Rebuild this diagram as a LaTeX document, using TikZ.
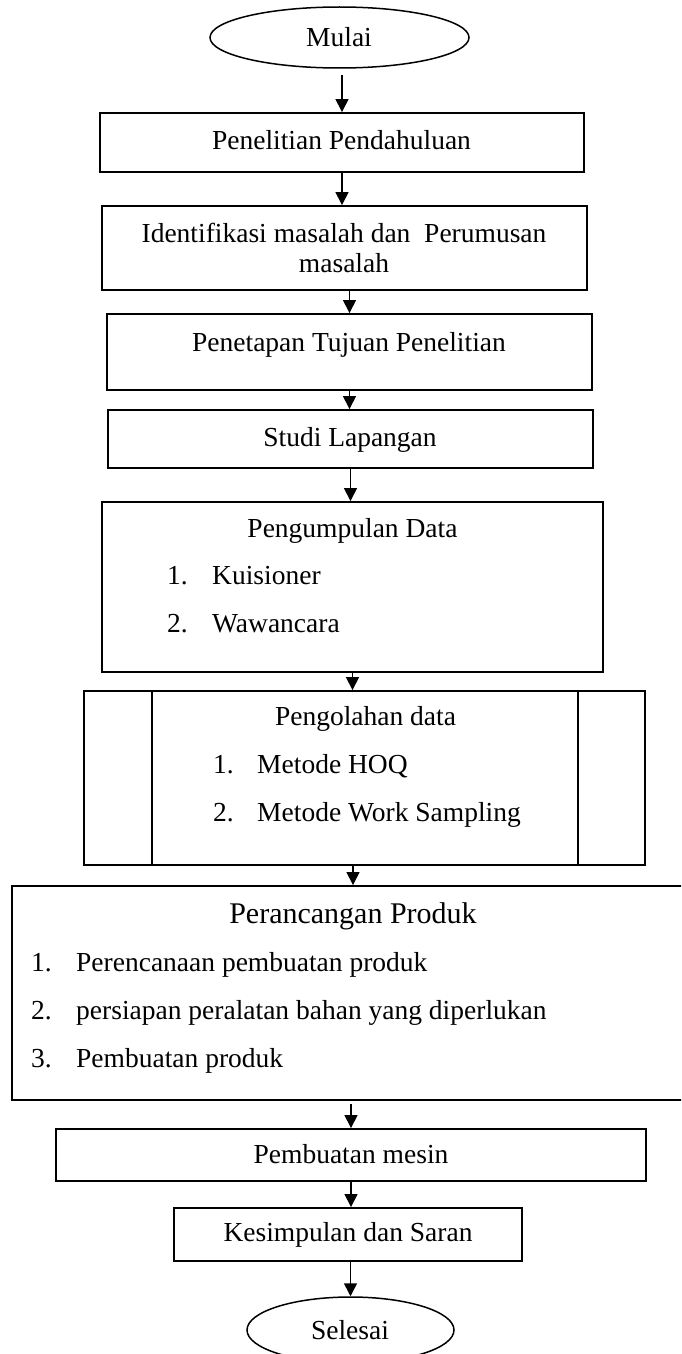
\documentclass[tikz,border=0pt]{standalone}
\usepackage{fontspec}
\setmainfont{Liberation Serif}
\usetikzlibrary{arrows.meta,shapes.geometric}
\begin{document}
\begin{tikzpicture}[x=1pt,y=-1pt,
  box/.style={draw,line width=1.9pt,rectangle,inner sep=0pt},
  oval/.style={draw,line width=1.5pt,ellipse,inner sep=0pt},
  txt/.style={inner sep=0pt,font=\fontsize{27.5}{30}\selectfont,anchor=base},
  ltxt/.style={txt,anchor=base west},
  bigtxt/.style={txt,font=\fontsize{30}{34}\selectfont},
  arr/.style={line width=1.5pt,-{Triangle[length=13pt,width=13pt]}}]
\useasboundingbox (0,0) rectangle (681,1354);
\clip (0,0) rectangle (681,1354);
\fill[white] (0,0) rectangle (681,1354);

% shapes
\node[oval,minimum width=259pt,minimum height=61pt] (e1) at (339.5,37.5) {};
\node[box,minimum width=484pt,minimum height=59pt] (b1) at (342,142.5) {};
\node[box,minimum width=485pt,minimum height=84pt] (b2) at (344.5,248) {};
\node[box,minimum width=485pt,minimum height=76pt] (b3) at (349.5,352) {};
\node[box,minimum width=485pt,minimum height=58pt] (b4) at (350.5,439) {};
\node[box,minimum width=501pt,minimum height=170pt] (b5) at (352.5,587) {};
\node[box,minimum width=561pt,minimum height=174pt] (b6) at (364.5,778) {};
\node[box,minimum width=682pt,minimum height=214pt] (b7) at (353,993) {};
\node[box,minimum width=590pt,minimum height=52pt] (b8) at (351,1155) {};
\node[box,minimum width=348pt,minimum height=53pt] (b9) at (348,1234.5) {};
\node[oval,minimum width=207pt,minimum height=66pt] (e2) at (350.5,1330) {};

% inner lines of predefined process box
\draw[line width=1.9pt] ([xshift=69pt]b6.north west) -- ([xshift=69pt]b6.south west);
\draw[line width=1.9pt] ([xshift=-68pt]b6.north east) -- ([xshift=-68pt]b6.south east);

% texts
\node[txt] (tm) at (339,47) {Mulai};
\node[txt] (t1) at (341.5,149) {Penelitian Pendahuluan};
\node[txt] (t2a) at (344,242) {Identifikasi masalah dan~ Perumusan};
\node[txt] (t2b) at (344,272) {masalah};
\node[txt] (t3) at (349,351) {Penetapan Tujuan Penelitian};
\node[txt] (t4) at (350,446) {Studi Lapangan};
\node[txt] (t5) at (352.5,537) {Pengumpulan Data};
\node[ltxt] (t5n1) at (167,584) {1.};
\node[ltxt] (t5a) at (212,584) {Kuisioner};
\node[ltxt] (t5n2) at (167,632) {2.};
\node[ltxt] (t5b) at (212,632) {Wawancara};
\node[txt] (t6) at (365.5,725) {Pengolahan data};
\node[ltxt] (t6n1) at (213,773) {1.};
\node[ltxt] (t6a) at (257,773) {Metode HOQ};
\node[ltxt] (t6n2) at (213,821) {2.};
\node[ltxt] (t6b) at (257,821) {Metode Work Sampling};
\node[bigtxt] (t7) at (353,923) {Perancangan Produk};
\node[ltxt] (t7n1) at (31,971) {1.};
\node[ltxt] (t7a) at (76,971) {Perencanaan pembuatan produk};
\node[ltxt] (t7n2) at (31,1019) {2.};
\node[ltxt] (t7b) at (76,1019) {persiapan peralatan bahan yang diperlukan};
\node[ltxt] (t7n3) at (31,1067) {3.};
\node[ltxt] (t7c) at (76,1067) {Pembuatan produk};
\node[txt] (t8) at (351,1163) {Pembuatan mesin};
\node[txt] (t9) at (348,1241) {Kesimpulan dan Saran};
\node[txt] (t10) at (350,1339) {Selesai};

% connectors
\coordinate (c1) at ([yshift=-6pt]e1.south);
\draw[arr] (c1 -| b1.north) -- (b1.north);
\draw[arr] (b1.south) -- (b1.south |- b2.north);
\draw[arr] (b2.south -| b3.north) -- (b3.north);
\draw[arr] (b3.south) -- (b3.south |- b4.north);
\draw[arr] (b4.south) -- (b4.south |- b5.north);
\draw[arr] (b5.south) -- (b5.south |- b6.north);
\draw[arr] (b6.south -| b7.north) -- (b7.north);
\coordinate (c8) at ([yshift=-3pt]b7.south);
\draw[arr] (c8 -| b8.north) -- (b8.north);
\draw[arr] (b8.south) -- (b8.south |- b9.north);
\draw[arr] (b9.south -| e2.north) -- (e2.north);
\end{tikzpicture}
\end{document}
